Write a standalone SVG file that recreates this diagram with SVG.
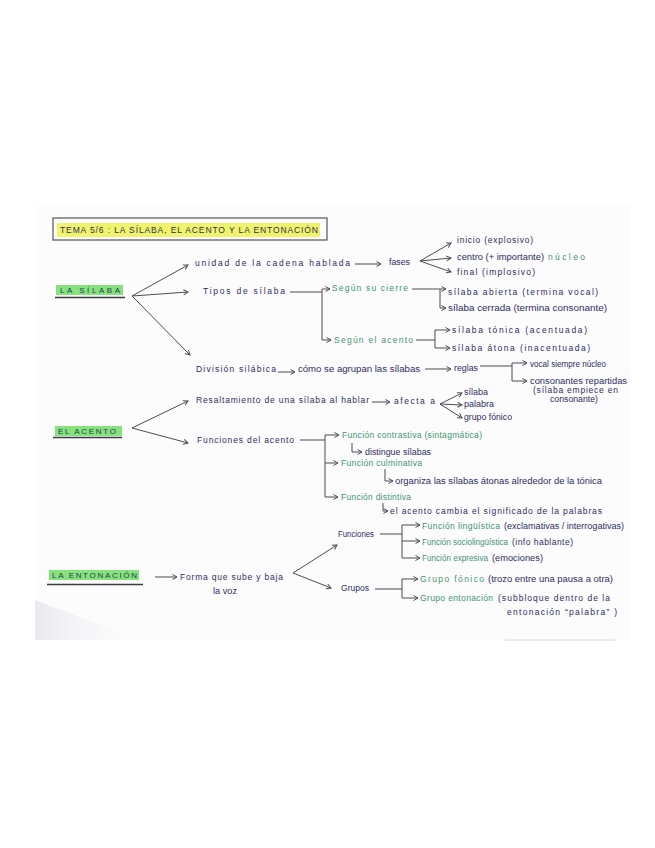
<svg xmlns="http://www.w3.org/2000/svg" width="655" height="848" viewBox="0 0 655 848">
<style>
text{font-family:"Liberation Sans","DejaVu Sans",sans-serif;font-size:8.5px;fill:#2c2d63;}
.g{fill:#3f9474;}
.h{font-size:8px;fill:#2c3a55;}
.ln{fill:none;stroke:#4c4c55;stroke-width:1;}
.ar{fill:none;stroke:#4c4c55;stroke-width:1;marker-end:url(#ah);}
.hl{fill:#86e27c;}
.ul{stroke:#3a3a44;stroke-width:1.3;}
</style>
<defs>
<marker id="ah" markerWidth="7" markerHeight="7" refX="5" refY="3" orient="auto" markerUnits="userSpaceOnUse">
<path d="M0.5,0.5 L5,3 L0.5,5.5" fill="none" stroke="#4c4c55" stroke-width="1"/>
</marker>
<linearGradient id="sh" x1="0" y1="0" x2="1" y2="0">
<stop offset="0" stop-color="#e9e9ee"/>
<stop offset="1" stop-color="#f7f7f9" stop-opacity="0"/>
</linearGradient>
</defs>
<rect width="655" height="848" fill="#ffffff"/>
<rect x="35" y="206" width="595" height="434" fill="#fcfcfc"/>
<polygon points="35,600 35,640 140,640" fill="url(#sh)"/>
<line x1="505" y1="640" x2="615" y2="640" stroke="#d8d8dc" stroke-width="1"/>

<g id="title">
<rect x="53" y="218" width="274" height="22" fill="none" stroke="#55555c" stroke-width="1.2"/>
<rect x="57" y="223" width="263" height="14" fill="#f1f36a"/>
<text x="60" y="233" textLength="258" lengthAdjust="spacing">TEMA 5/6 : LA SÍLABA, EL ACENTO Y LA ENTONACIÓN</text>
</g>

<g id="connectors">
<path class="ar" d="M132,296 L188,265"/>
<path class="ar" d="M132,296 L188,292"/>
<path class="ar" d="M132,296 L190,355"/>
<path class="ar" d="M355,264 H381"/>
<path class="ar" d="M420,261 L451,243"/>
<path class="ar" d="M420,261 L451,258"/>
<path class="ar" d="M420,261 L451,272"/>
<path class="ln" d="M290,292 H322"/>
<path class="ar" d="M322,340 V289 H330"/>
<path class="ar" d="M322,340 H331"/>
<path class="ar" d="M412,289 H446"/>
<path class="ar" d="M440,289 V308 H446"/>
<path class="ln" d="M416,340 H435"/>
<path class="ar" d="M435,340 V330 H450"/>
<path class="ar" d="M435,340 V348 H450"/>
<path class="ar" d="M278,372 H295"/>
<path class="ar" d="M425,369 H451"/>
<path class="ln" d="M480,366 H512"/>
<path class="ar" d="M512,366 V363 H527"/>
<path class="ar" d="M512,366 V381 H527"/>
<path class="ar" d="M132,428 L188,401"/>
<path class="ar" d="M132,428 L188,443"/>
<path class="ar" d="M372,402 H390"/>
<path class="ar" d="M440,404 L462,393"/>
<path class="ar" d="M440,404 L462,405"/>
<path class="ar" d="M440,404 L462,418"/>
<path class="ln" d="M300,440 H325"/>
<path class="ar" d="M325,440 V435 H339"/>
<path class="ar" d="M325,440 V463 H338"/>
<path class="ar" d="M325,463 V497 H338"/>
<path class="ar" d="M352,443 V452 H362"/>
<path class="ar" d="M385,469 V481 H393"/>
<path class="ar" d="M383,503 V511 H388"/>
<path class="ar" d="M155,577 H177"/>
<path class="ar" d="M293,573 L337,545"/>
<path class="ar" d="M293,573 L331,588"/>
<path class="ln" d="M380,534 H402"/>
<path class="ar" d="M402,534 V525 H420"/>
<path class="ar" d="M402,534 V541 H420"/>
<path class="ar" d="M402,541 V558 H420"/>
<path class="ln" d="M375,589 H402"/>
<path class="ar" d="M402,589 V579 H418"/>
<path class="ar" d="M402,589 V598 H418"/>
</g>

<g id="n-la-silaba">
<rect class="hl" x="56" y="285" width="67" height="10"/>
<text class="h" x="60" y="293" textLength="60" lengthAdjust="spacing">LA SÍLABA</text>
<line class="ul" x1="55" y1="297.5" x2="125" y2="297.5"/>
</g>
<g id="n-unidad"><text x="195" y="266" textLength="155" lengthAdjust="spacing">unidad de la cadena hablada</text></g>
<g id="n-fases"><text x="389" y="265" textLength="21" lengthAdjust="spacingAndGlyphs">fases</text></g>
<g id="n-inicio"><text x="457" y="243" textLength="76" lengthAdjust="spacing">inicio (explosivo)</text></g>
<g id="n-centro"><text x="457" y="260" textLength="87" lengthAdjust="spacingAndGlyphs">centro (+ importante)</text><text class="g" x="548" y="260" textLength="37" lengthAdjust="spacing">núcleo</text></g>
<g id="n-final"><text x="457" y="275" textLength="78" lengthAdjust="spacing">final (implosivo)</text></g>
<g id="n-tipos"><text x="203" y="294" textLength="82" lengthAdjust="spacing">Tipos de sílaba</text></g>
<g id="n-cierre"><text class="g" x="332" y="291" textLength="76" lengthAdjust="spacing">Según su cierre</text></g>
<g id="n-abierta"><text x="448" y="295" textLength="150" lengthAdjust="spacing">sílaba abierta (termina vocal)</text></g>
<g id="n-cerrada"><text x="448" y="311" textLength="159" lengthAdjust="spacingAndGlyphs">sílaba cerrada (termina consonante)</text></g>
<g id="n-segun-acento"><text class="g" x="334" y="343" textLength="79" lengthAdjust="spacing">Según el acento</text></g>
<g id="n-tonica"><text x="452" y="333" textLength="135" lengthAdjust="spacing">sílaba tónica (acentuada)</text></g>
<g id="n-atona"><text x="452" y="351" textLength="138" lengthAdjust="spacing">sílaba átona (inacentuada)</text></g>
<g id="n-division"><text x="196" y="372" textLength="80" lengthAdjust="spacing">División silábica</text></g>
<g id="n-como"><text x="298" y="372" textLength="122" lengthAdjust="spacingAndGlyphs">cómo se agrupan las sílabas</text></g>
<g id="n-reglas"><text x="454" y="371" textLength="24" lengthAdjust="spacingAndGlyphs">reglas</text></g>
<g id="n-vocal"><text x="530" y="367" textLength="76" lengthAdjust="spacingAndGlyphs">vocal siempre núcleo</text></g>
<g id="n-consonantes">
<text x="530" y="384" textLength="97" lengthAdjust="spacingAndGlyphs">consonantes repartidas</text>
<text x="533" y="393" textLength="85" lengthAdjust="spacing">(sílaba empiece en</text>
<text x="550" y="402" textLength="48" lengthAdjust="spacingAndGlyphs">consonante)</text>
</g>

<g id="n-el-acento">
<rect class="hl" x="55" y="426" width="67" height="10"/>
<text class="h" x="58" y="434" textLength="58" lengthAdjust="spacing">EL ACENTO</text>
<line class="ul" x1="53" y1="437.5" x2="122" y2="437.5"/>
</g>
<g id="n-resaltamiento"><text x="196" y="403" textLength="173" lengthAdjust="spacing">Resaltamiento de una sílaba al hablar</text></g>
<g id="n-afecta"><text x="394" y="404" textLength="41" lengthAdjust="spacing">afecta a</text></g>
<g id="n-silaba2"><text x="464" y="395" textLength="24" lengthAdjust="spacingAndGlyphs">sílaba</text></g>
<g id="n-palabra"><text x="464" y="407" textLength="30" lengthAdjust="spacingAndGlyphs">palabra</text></g>
<g id="n-grupo-fonico"><text x="464" y="420" textLength="48" lengthAdjust="spacingAndGlyphs">grupo fónico</text></g>
<g id="n-funciones-acento"><text x="197" y="443" textLength="97" lengthAdjust="spacing">Funciones del acento</text></g>
<g id="n-contrastiva"><text class="g" x="342" y="438" textLength="140" lengthAdjust="spacing">Función contrastiva (sintagmática)</text></g>
<g id="n-distingue"><text x="365" y="455" textLength="66" lengthAdjust="spacingAndGlyphs">distingue sílabas</text></g>
<g id="n-culminativa"><text class="g" x="341" y="466" textLength="81" lengthAdjust="spacing">Función culminativa</text></g>
<g id="n-organiza"><text x="395" y="484" textLength="207" lengthAdjust="spacingAndGlyphs">organiza las sílabas átonas alrededor de la tónica</text></g>
<g id="n-distintiva"><text class="g" x="341" y="500" textLength="70" lengthAdjust="spacing">Función distintiva</text></g>
<g id="n-cambia"><text x="390" y="514" textLength="212" lengthAdjust="spacing">el acento cambia el significado de la palabras</text></g>

<g id="n-la-entonacion">
<rect class="hl" x="49" y="570" width="90" height="10"/>
<text class="h" x="52" y="578" textLength="85" lengthAdjust="spacing">LA ENTONACIÓN</text>
<line class="ul" x1="47" y1="584.5" x2="143" y2="584.5"/>
</g>
<g id="n-forma">
<text x="180" y="580" textLength="103" lengthAdjust="spacing">Forma que sube y baja</text>
<text x="213" y="594" textLength="24" lengthAdjust="spacingAndGlyphs">la voz</text>
</g>
<g id="n-funciones"><text x="338" y="537" textLength="36" lengthAdjust="spacingAndGlyphs">Funciones</text></g>
<g id="n-linguistica"><text class="g" x="422" y="529" textLength="78" lengthAdjust="spacing">Función lingüística</text><text x="504" y="529" textLength="120" lengthAdjust="spacingAndGlyphs">(exclamativas / interrogativas)</text></g>
<g id="n-socio"><text class="g" x="422" y="545" textLength="86" lengthAdjust="spacingAndGlyphs">Función sociolingüística</text><text x="512" y="545" textLength="61" lengthAdjust="spacing">(info hablante)</text></g>
<g id="n-expresiva"><text class="g" x="422" y="561" textLength="66" lengthAdjust="spacingAndGlyphs">Función expresiva</text><text x="492" y="561" textLength="51" lengthAdjust="spacingAndGlyphs">(emociones)</text></g>
<g id="n-grupos"><text x="341" y="591" textLength="28" lengthAdjust="spacingAndGlyphs">Grupos</text></g>
<g id="n-fonico"><text class="g" x="420" y="582" textLength="64" lengthAdjust="spacing">Grupo  fónico</text><text x="488" y="582" textLength="125" lengthAdjust="spacingAndGlyphs">(trozo entre una pausa a otra)</text></g>
<g id="n-grupo-entonacion">
<text class="g" x="420" y="601" textLength="73" lengthAdjust="spacing">Grupo entonación</text>
<text x="498" y="601" textLength="112" lengthAdjust="spacing">(subbloque dentro de la</text>
<text x="507" y="615" textLength="110" lengthAdjust="spacing">entonación “palabra” )</text>
</g>
</svg>
